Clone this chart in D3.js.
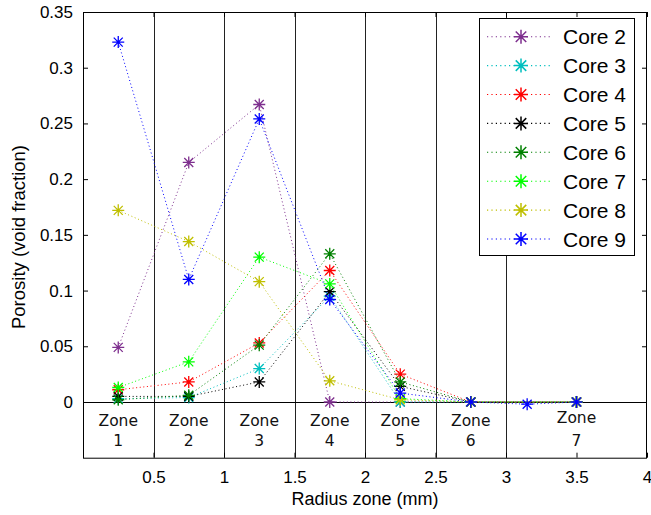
<!DOCTYPE html>
<html>
<head>
<meta charset="utf-8">
<script src="https://cdn.jsdelivr.net/npm/d3@7"></script>
<style>
  html, body { margin: 0; padding: 0; background: #fff; }
  svg { display: block; }
</style>
</head>
<body>
<svg id="chart" width="651" height="515"></svg>
<script>
// Zone centres (mm) where porosity was sampled
const zoneX = [0.25, 0.75, 1.25, 1.75, 2.25, 2.75, 3.5];
const core9X = [0.25, 0.75, 1.25, 1.75, 2.25, 2.75, 3.15, 3.5];

// Porosity (void fraction) per core
const core2 = [0.049, 0.215, 0.267, 0, 0, 0, 0];
const core3 = [0.003, 0.004, 0.030, 0.095, 0, 0, 0];
const core4 = [0.011, 0.018, 0.053, 0.118, 0.025, 0, 0];
const core5 = [0.005, 0.005, 0.018, 0.099, 0.014, 0, 0];
const core6 = [0.002, 0.006, 0.051, 0.133, 0.018, 0, 0];
const core7 = [0.013, 0.036, 0.130, 0.106, 0.003, 0, 0];
const core8 = [0.172, 0.144, 0.108, 0.019, 0.002, 0, 0];
const core9 = [0.323, 0.110, 0.254, 0.092, 0.008, 0, -0.002, 0];

const seriesNames = ["Core 2", "Core 3", "Core 4", "Core 5", "Core 6", "Core 7", "Core 8", "Core 9"];
const seriesColors = ["#7E2F8E", "#00BFBF", "#FF0000", "#000000", "#008000", "#00FF00", "#BFBF00", "#0000FF"];
const seriesX = [zoneX, zoneX, zoneX, zoneX, zoneX, zoneX, zoneX, core9X];
const seriesY = [core2, core3, core4, core5, core6, core7, core8, core9];

// Zone boundaries and labels
const zoneBounds = [0.5, 1, 1.5, 2, 2.5, 3];
const zoneLabels = ["1", "2", "3", "4", "5", "6", "7"];

const xTicks = [0.5, 1, 1.5, 2, 2.5, 3, 3.5, 4];
const yTicks = [0, 0.05, 0.1, 0.15, 0.2, 0.25, 0.3, 0.35];

const svg = d3.select("#chart");
const mLeft = 83, mRight = 647, mTop = 12, mBottom = 457.7;

const x = d3.scaleLinear().domain([0, 4]).range([mLeft, mRight]);
const y = d3.scaleLinear().domain([-0.05, 0.35]).range([mBottom, mTop]);

const font = "'Liberation Sans', Arial, sans-serif";

// Zone divider lines
svg.append("g").selectAll("line").data(zoneBounds).join("line")
  .attr("x1", d => Math.round(x(d)) + 0.5).attr("x2", d => Math.round(x(d)) + 0.5)
  .attr("y1", mTop).attr("y2", mBottom)
  .attr("stroke", "#222").attr("stroke-width", 1);

// Zero line
svg.append("line")
  .attr("x1", mLeft).attr("x2", mRight)
  .attr("y1", Math.round(y(0)) + 0.5).attr("y2", Math.round(y(0)) + 0.5)
  .attr("stroke", "#000").attr("stroke-width", 1);

// Zone labels
const zoneG = svg.append("g").attr("font-family", "'DejaVu Sans', Verdana, sans-serif")
  .attr("font-size", 15.5).attr("text-anchor", "middle").attr("fill", "#111");
zoneLabels.forEach((lab, i) => {
  const cx = i < 6 ? x(0.25 + 0.5 * i) : x(3.5);
  const t = zoneG.append("text").attr("x", cx);
  t.append("tspan").attr("x", cx).attr("y", i < 6 ? 425.5 : 422.5).text("Zone");
  t.append("tspan").attr("x", cx).attr("y", 445.5).text(lab);
});

// Axes (ticks pointing inward, box frame)
const tickLen = 5;
const axB = d3.axisBottom(x).tickValues(xTicks).tickSizeInner(-tickLen).tickSizeOuter(0).tickPadding(13).tickFormat(d3.format("~g"));
const axL = d3.axisLeft(y).tickValues(yTicks).tickSizeInner(-tickLen).tickSizeOuter(0).tickPadding(10).tickFormat(d3.format("~g"));
const axT = d3.axisTop(x).tickValues(xTicks).tickSizeInner(-tickLen).tickSizeOuter(0).tickFormat("");
const axR = d3.axisRight(y).tickValues(yTicks).tickSizeInner(-tickLen).tickSizeOuter(0).tickFormat("");

function styleAxis(g) {
  g.select(".domain").remove();
  g.selectAll(".tick line").attr("stroke", "#000");
  g.selectAll(".tick text").attr("font-family", font).attr("font-size", 17).attr("fill", "#000");
}
svg.append("g").attr("transform", `translate(0,${mBottom})`).call(axB).call(styleAxis);
svg.append("g").attr("transform", `translate(${mLeft},0)`).call(axL).call(styleAxis);
svg.append("g").attr("transform", `translate(0,${mTop})`).call(axT).call(styleAxis);
svg.append("g").attr("transform", `translate(${mRight},0)`).call(axR).call(styleAxis);

svg.append("rect")
  .attr("x", mLeft + 0.5).attr("y", mTop + 0.5)
  .attr("width", mRight - mLeft - 1).attr("height", mBottom - mTop)
  .attr("fill", "none").attr("stroke", "#000").attr("stroke-width", 1);

// Axis titles
svg.append("text").attr("x", (mLeft + mRight) / 2).attr("y", 505)
  .attr("text-anchor", "middle").attr("font-family", font).attr("font-size", 18)
  .text("Radius zone (mm)");
svg.append("text").attr("transform", `translate(25,237) rotate(-90)`)
  .attr("text-anchor", "middle").attr("font-family", font).attr("font-size", 18.5)
  .text("Porosity (void fraction)");

// Asterisk marker path
function asterisk(r) {
  const d = r * 0.75;
  return `M${-r},0L${r},0M0,${-r}L0,${r}M${-d},${-d}L${d},${d}M${-d},${d}L${d},${-d}`;
}

const line = d3.line().x(p => x(p[0])).y(p => y(p[1]));

const plot = svg.append("g");
seriesNames.forEach((name, i) => {
  const pts = seriesX[i].map((xv, j) => [xv, seriesY[i][j]]);
  const g = plot.append("g");
  g.append("path").datum(pts).attr("d", line)
    .attr("fill", "none").attr("stroke", seriesColors[i])
    .attr("stroke-width", 1).attr("stroke-dasharray", "1,2.6");
  g.selectAll("path.m").data(pts).join("path").attr("class", "m")
    .attr("transform", p => `translate(${x(p[0])},${y(p[1])})`)
    .attr("d", asterisk(6))
    .attr("stroke", seriesColors[i]).attr("stroke-width", 1.3).attr("fill", "none");
});

// Legend
const lg = svg.append("g");
lg.append("rect").attr("x", 479.5).attr("y", 18.5).attr("width", 155).attr("height", 237)
  .attr("fill", "#fff").attr("stroke", "#000").attr("stroke-width", 1);
seriesNames.forEach((name, i) => {
  const cy = 36.7 + i * 28.9;
  lg.append("line").attr("x1", 487).attr("x2", 553).attr("y1", cy).attr("y2", cy)
    .attr("stroke", seriesColors[i]).attr("stroke-width", 1.1).attr("stroke-dasharray", "1.2,3.2");
  lg.append("path").attr("transform", `translate(521,${cy})`).attr("d", asterisk(7))
    .attr("stroke", seriesColors[i]).attr("stroke-width", 1.5).attr("fill", "none");
  lg.append("text").attr("x", 563).attr("y", cy + 7.5)
    .attr("font-family", font).attr("font-size", 21).attr("fill", "#000").text(name);
});
</script>
</body>
</html>
